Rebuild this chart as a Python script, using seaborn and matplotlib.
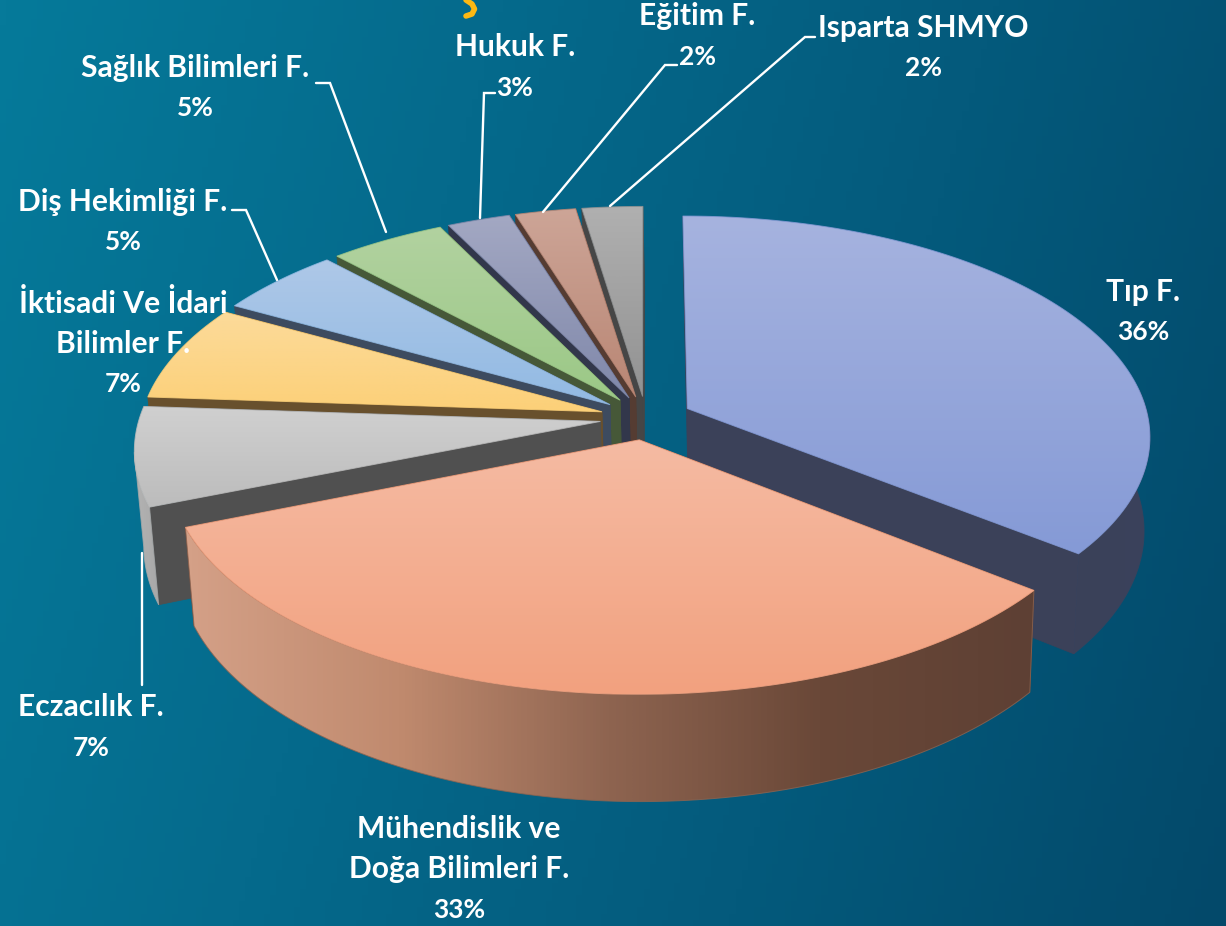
import numpy as np
import matplotlib
matplotlib.use("Agg")
import matplotlib.pyplot as plt
from matplotlib.patches import Polygon
import seaborn as sns

# slice data, clockwise from 12 o'clock
faculties = ["Tıp F.", "Mühendislik ve\nDoğa Bilimleri F.", "Eczacılık F.",
             "İktisadi Ve İdari\nBilimler F.", "Diş Hekimliği F.", "Sağlık Bilimleri F.",
             "Hukuk F.", "Eğitim F.", "Isparta SHMYO"]
values = [35.7, 33.2, 7.2, 7.0, 5.0, 4.6, 2.5, 2.4, 2.4]
percent_labels = ["36%", "33%", "7%", "7%", "5%", "5%", "3%", "2%", "2%"]

# top face colours (back, front), dark wall colour
top_colors = [("#a6b3df", "#859ad6"), ("#f5bba3", "#f2a17f"), ("#d0d0d0", "#bcbcbc"),
              ("#fcdb9a", "#fcd078"), ("#aec8e8", "#92bae3"), ("#b2d2a0", "#9bc886"),
              ("#a3a8c3", "#8088aa"), ("#cda597", "#b98674"), ("#b0b0b0", "#929292")]
wall_colors = ["#3b4159", "#5a4036", "#505050", "#68502d", "#3d4b5f",
               "#465838", "#32374b", "#553c32", "#464646"]
rim_colors = [["#3a4159", "#3b425c"],
              ["#d4a087", "#c08a6e", "#8e6450", "#6a4838", "#5e4034"],
              ["#b4b4b4", "#a8a8a8"]]

# label layout, pixels of the picture (x centre, y of first line)
label_xy = [(1143, 290), (459, 827), (91, 706), (123, 302), (123, 200),
            (195, 66), (515, 46), (697, 15), (923, 26)]
leaders = [[(610, 206), (805, 37), (815, 37)],
           [(543, 212), (665, 65), (677, 65)],
           [(480, 218), (484, 93), (495, 93)],
           [(386, 232), (330, 83), (316, 83)],
           [(277, 280), (246, 210), (232, 210)],
           [(142, 553), (142, 685)]]

# projection of the pie
CX, CY = 646, 418
R, RY = 461, 218
PERSP = 0.121
EXPLODE = 0.1
DEPTH = 93
SHRINK = 0.985
SHRINK_X = 760

sns.set_theme(style="white")
plt.rcParams['font.family'] = ['Lato', 'DejaVu Sans']

W, H = 1226, 926
fig = plt.figure(figsize=(W / 100, H / 100), dpi=100)
ax = fig.add_axes([0, 0, 1, 1])
ax.set_axis_off()
z = 1


def project(angle, bis):
    a = np.radians(angle)
    b = np.radians(bis)
    return np.sin(a) + EXPLODE * np.sin(b), -np.cos(a) - EXPLODE * np.cos(b)


def to_top(u, v):
    s = 1 / (1 - PERSP * v)
    return np.column_stack([CX + R * u * s, CY + RY * v * s])


def to_bottom(u, v):
    s = 1 / (1 - PERSP * v)
    pts = to_top(u, v)
    pts[:, 0] = SHRINK_X + (pts[:, 0] - SHRINK_X) * SHRINK
    pts[:, 1] = pts[:, 1] + DEPTH * s
    return pts


def grad_fill(pts, colors, horizontal=False):
    global z
    cmap = sns.blend_palette(colors, n_colors=128, as_cmap=True)
    grid = np.linspace(0, 1, 128)
    grid = grid.reshape(1, -1) if horizontal else grid.reshape(-1, 1)
    x0, y0 = pts.min(axis=0)
    x1, y1 = pts.max(axis=0)
    im = ax.imshow(grid, cmap=cmap, vmin=0, vmax=1, aspect='auto', origin='upper',
                   extent=(x0, x1, y1, y0), zorder=z, interpolation='bilinear')
    poly = Polygon(pts, closed=True, transform=ax.transData, fc='none', ec='none')
    ax.add_patch(poly)
    im.set_clip_path(poly)
    mid = colors[len(colors) // 2]
    ax.add_patch(Polygon(pts, closed=True, fc='none', ec=mid, lw=0.7, alpha=0.8, zorder=z))
    z += 1


def flat_fill(pts, color):
    global z
    ax.add_patch(Polygon(pts, closed=True, fc=color, ec=color, lw=0.5, zorder=z))
    z += 1


# background
xx, yy = np.meshgrid(np.linspace(0, 1, 200), np.linspace(0, 1, 150))
bg_cmap = sns.blend_palette(["#067a9a", "#056a8c", "#045a7c", "#03496a"], as_cmap=True)
ax.imshow(0.82 * xx + 0.18 * yy, cmap=bg_cmap, vmin=0, vmax=1, aspect='auto',
          extent=(0, W, H, 0), zorder=0)

edges = np.cumsum([0] + values) * 3.6
draw_order = [8, 7, 6, 5, 4, 3, 2, 0, 1]
rim_by_slice = {0: rim_colors[0], 1: rim_colors[1], 2: rim_colors[2]}

for i in draw_order:
    a0, a1 = edges[i], edges[i + 1]
    bis = (a0 + a1) / 2
    arc = np.linspace(a0, a1, 120)
    ua, va = project(arc, bis)
    apex_u, apex_v = EXPLODE * np.sin(np.radians(bis)), -EXPLODE * np.cos(np.radians(bis))
    apex_top = to_top(np.array([apex_u]), np.array([apex_v]))
    apex_bot = to_bottom(np.array([apex_u]), np.array([apex_v]))
    top_arc = to_top(ua, va)

    # the wall further back goes first
    walls = []
    for ang in (a0, a1):
        uw, vw = project(np.array([ang]), bis)
        walls.append((vw[0], np.vstack([apex_top, to_top(uw, vw), to_bottom(uw, vw), apex_bot])))
    walls.sort(key=lambda w: w[0])
    flat_fill(walls[0][1], wall_colors[i])
    flat_fill(walls[1][1], wall_colors[i])

    # outer rim, only where it faces the viewer
    lo, hi = max(a0, 85), min(a1, 262)
    if hi > lo and i in rim_by_slice:
        rim_arc = np.linspace(lo, hi, 120)
        ur, vr = project(rim_arc, bis)
        rim = np.vstack([to_top(ur, vr), to_bottom(ur, vr)[::-1]])
        grad_fill(rim, rim_by_slice[i], horizontal=True)

    grad_fill(np.vstack([apex_top, top_arc]), list(top_colors[i]))

# leader lines
for line in leaders:
    pts = np.array(line)
    ax.plot(pts[:, 0], pts[:, 1], color='white', lw=1.7, zorder=z, solid_joinstyle='miter')

# cut-off mark at the top edge
ax.plot([466, 472, 474.5, 472, 466], [0, 4, 9, 14, 16], color='#fdb813', lw=4,
        zorder=z, solid_capstyle='round')

# labels
LINE_H = 40.5
for name, pct, (x, y) in zip(faculties, percent_labels, label_xy):
    lines = name.split("\n") + [pct]
    for k, text in enumerate(lines):
        ax.text(x, y + k * LINE_H + 1.5, text, color='white', ha='center', va='center',
                fontsize=21.6 if text != pct else 19,
                fontweight='bold', zorder=z + 1)

ax.set_xlim(0, W)
ax.set_ylim(H, 0)
fig.savefig("out.png", dpi=100)
